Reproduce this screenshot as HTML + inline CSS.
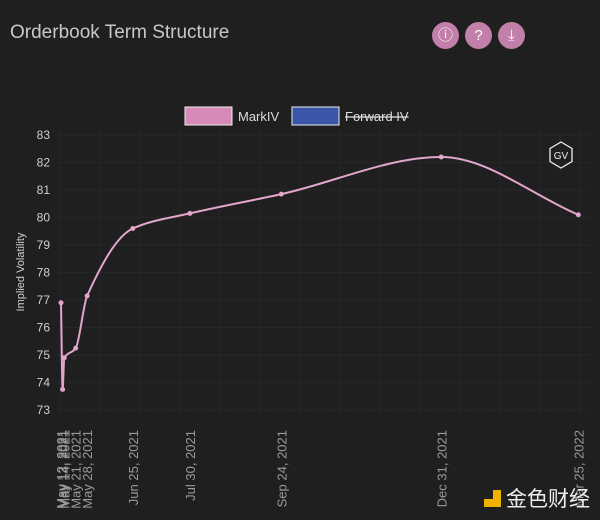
<!DOCTYPE html>
<html><head><meta charset="utf-8"><style>
body{margin:0;background:#1f1f20;}
#c{position:relative;width:600px;height:520px;background:#1f1f20;font-family:"Liberation Sans","Noto Sans CJK SC",sans-serif;overflow:hidden}
.t{position:absolute;left:10px;top:22px;font-size:19px;color:#c8c8c8}
.ic{position:absolute;top:22px;width:27px;height:27px;border-radius:50%;background:#c27fa9;color:#fff;font-size:15px;text-align:center;line-height:27px}
</style></head><body>
<div id="c">
<div class="t">Orderbook Term Structure</div>
<div class="ic" style="left:432px">&#9432;</div>
<div class="ic" style="left:465px">?</div>
<div class="ic" style="left:498px">&#10515;</div>
<svg id="s" width="600" height="520" style="position:absolute;left:0;top:0"></svg>
</div>
<script>
const dates=["May 12, 2021","May 13, 2021","May 14, 2021","May 21, 2021","May 28, 2021","Jun 25, 2021","Jul 30, 2021","Sep 24, 2021","Dec 31, 2021","Mar 25, 2022"];
const days=[0,1,2,9,16,44,79,135,233,317];
const markIV=[76.9,73.75,74.9,75.25,77.15,79.6,80.15,80.85,82.2,80.1];
const yTicks=[73,74,75,76,77,78,79,80,81,82,83];
const NS="http://www.w3.org/2000/svg",s=document.getElementById('s');
const x=d=>61+d*1.632, y=v=>410-(v-73)*27.5;
function el(t,a,p){const e=document.createElementNS(NS,t);for(const k in a)e.setAttribute(k,a[k]);(p||s).appendChild(e);return e;}
for(let i=0;i<30;i++){const g=el('line',{x1:60+i*20,x2:60+i*20,y1:130,y2:415,stroke:'#262627','stroke-width':1});}
yTicks.forEach(v=>{const g=el('line',{x1:58,x2:590,y1:y(v),y2:y(v),stroke:'#272728'});
const t=el('text',{x:50,y:y(v)+4,'text-anchor':'end','font-size':12,fill:'#d0d0d0'});t.textContent=v;});
const yt=el('text',{transform:'translate(24,272) rotate(-90)','text-anchor':'middle','font-size':11,fill:'#d0d0d0'});yt.textContent='Implied Volatility';
dates.forEach((d,i)=>{const t=el('text',{transform:`translate(${x(days[i])+5},430) rotate(-90)`,'text-anchor':'end','font-size':13,fill:'#9a9a9a'});t.textContent=d;});
const px=days.map(x),py=markIV.map(y),n=px.length,dl=[],m=[];
for(let i=0;i<n-1;i++)dl.push((py[i+1]-py[i])/(px[i+1]-px[i]));
m[0]=dl[0];m[n-1]=dl[n-2];
for(let i=1;i<n-1;i++)m[i]=dl[i-1]*dl[i]<=0?0:2/(1/dl[i-1]+1/dl[i]);
let p=`M${px[0]},${py[0]}`;
for(let i=0;i<n-1;i++){const h=(px[i+1]-px[i])/3;p+=`C${px[i]+h},${py[i]+m[i]*h} ${px[i+1]-h},${py[i+1]-m[i+1]*h} ${px[i+1]},${py[i+1]}`;}
const ln=el('path',{d:p,fill:'none',stroke:'#e3a6cb','stroke-width':2});
px.forEach((a,i)=>{const c=el('circle',{cx:a,cy:py[i],r:2.5,fill:'#e3a6cb'});});
const l1=el('rect',{x:185,y:107,width:47,height:18,fill:'#d68ab7',stroke:'#eee','stroke-width':1});
const l1t=el('text',{x:238,y:121,'font-size':13,fill:'#ddd'});l1t.textContent='MarkIV';
const l2=el('rect',{x:292,y:107,width:47,height:18,fill:'#3a55a8',stroke:'#eee','stroke-width':1});
const l2t=el('text',{x:345,y:121,'font-size':13,fill:'#ddd','text-decoration':'line-through'});l2t.textContent='Forward IV';
const hx=el('polygon',{points:'561,142 572,148.5 572,161.5 561,168 550,161.5 550,148.5',fill:'none',stroke:'#eee','stroke-width':1.3});
const gv=el('text',{x:561,y:159,'text-anchor':'middle','font-size':10,fill:'#eee'});gv.textContent='GV';
el('rect',{x:484,y:490,width:17,height:17,fill:'#f0b400'});el('rect',{x:484,y:490,width:9,height:9,fill:'#1f1f20'});
const wm=el('text',{x:506,y:506,'font-size':21,fill:'#eee'});wm.textContent='金色财经';
</script>
</body></html>
